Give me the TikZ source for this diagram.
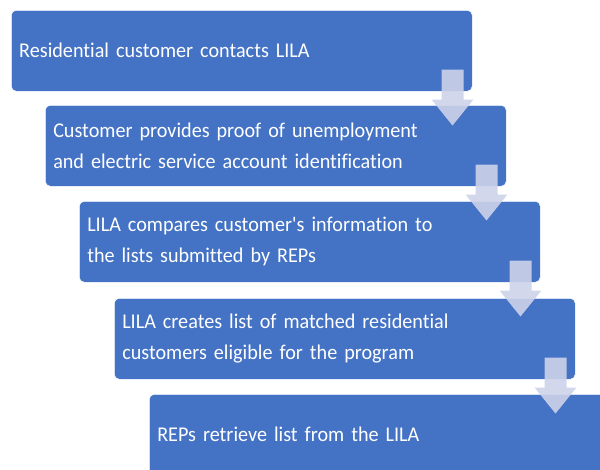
\documentclass[tikz,border=0pt]{standalone}
\usepackage{fontspec}
\setmainfont[Ligatures={NoCommon}, FakeStretch=0.96]{Carlito}
\usetikzlibrary{calc}
\definecolor{boxblue}{HTML}{4472C4}
\definecolor{arrowtint}{HTML}{CDD3EA}
\tikzset{
  stepbox/.style={rectangle, rounded corners=5pt, fill=boxblue, draw=white, line width=0.5pt,
    anchor=north west, minimum width=461pt, minimum height=81pt, inner xsep=8pt, inner ysep=0pt,
    text width=445pt, align=left, text=white, font=\fontsize{21}{31}\selectfont},
  downarrow/.style={fill=arrowtint, fill opacity=0.9}
}
\begin{document}
\begin{tikzpicture}[x=1pt,y=-1pt]
\useasboundingbox (0,0) rectangle (600,469);
\clip (0,0) rectangle (600,469);
\node[stepbox] (b1) at (11,10) {Residential customer contacts LILA};
\node[stepbox] (b2) at (45,105) {Customer provides proof of unemployment\\and electric service account identification};
\node[stepbox] (b3) at (79,201) {LILA compares customer\textquotesingle s information to\\the lists submitted by REPs};
\node[stepbox] (b4) at (114,298) {LILA creates list of matched residential\\customers eligible for the program};
\node[stepbox] (b5) at (149,394) {REPs retrieve list from the LILA};
\foreach \b in {b1,b2,b3,b4}{
  \fill[downarrow, shift={($(\b.south east)+(-20,0)$)}]
    (-11,-22) -- (11,-22) -- (11,8) -- (21,8) -- (0,34) -- (-21,8) -- (-11,8) -- cycle;
}
\end{tikzpicture}
\end{document}
